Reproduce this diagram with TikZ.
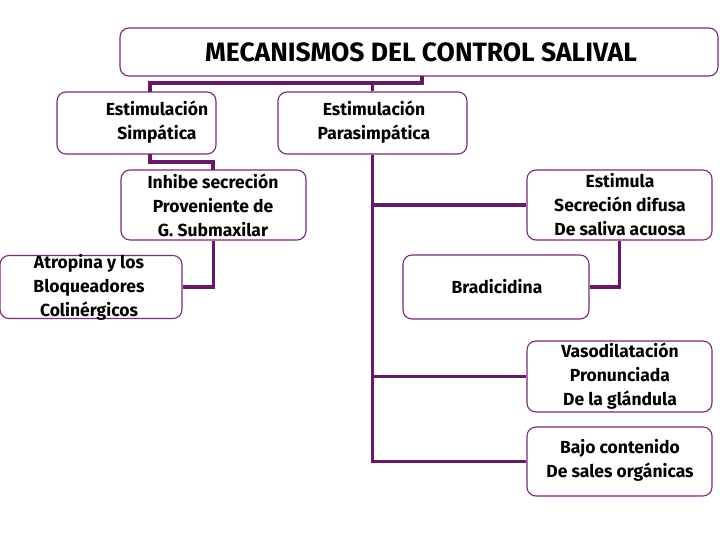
\documentclass[tikz,border=0pt]{standalone}
\usepackage{fontspec}
\setmainfont{Fira Sans}
\definecolor{conncol}{HTML}{661A66}
\definecolor{boxcol}{HTML}{7A2A7A}
\tikzset{
  box/.style={draw=boxcol, line width=1.1pt, rounded corners=9pt, fill=white, inner sep=0pt},
  txt/.style={align=center, font=\fontsize{17.5}{24}\selectfont\bfseries, text=black, inner sep=0pt},
  conn/.style={draw=conncol, line width=3.2pt}
}
\begin{document}
\begin{tikzpicture}[x=1pt,y=-1pt]
\useasboundingbox (0,0) rectangle (720,540);
\coordinate (tb) at (422,76);
\coordinate (j1) at (422,83);
\coordinate (simpTop) at (150,92);
\coordinate (simpBot) at (150,154);
\coordinate (inhTop) at (213,170);

\node[box, minimum width=598, minimum height=48] (title) at (419,52) {};
\node[box, minimum width=159, minimum height=62] (simp) at (136.5,123) {};
\node[box, minimum width=189, minimum height=62] (para) at (372.5,123) {};
\node[box, minimum width=185, minimum height=70] (inh) at (213.5,205) {};
\node[box, minimum width=182, minimum height=63] (atro) at (91,287) {};
\node[box, minimum width=185, minimum height=70] (estim) at (619.5,205) {};
\node[box, minimum width=186, minimum height=64] (brad) at (496,287) {};
\node[box, minimum width=185, minimum height=71] (vaso) at (619.5,376.5) {};
\node[box, minimum width=185, minimum height=69] (bajo) at (619.5,461.5) {};

\draw[conn] (tb) -- (j1) -| (simpTop);
\draw[conn] (j1) -| (para.north);
\draw[conn] (simpBot) |- (213,162) -- (inhTop);
\draw[conn] (inh.south) |- (atro.east);
\draw[conn] (para.south) |- (estim.west);
\draw[conn] (para.south) |- (vaso.west);
\draw[conn] (para.south) |- (bajo.west);
\draw[conn] (estim.south) |- (brad.east);

\node[txt, font=\fontsize{26.5}{28}\selectfont\bfseries] at (421,52) {MECANISMOS DEL CONTROL SALIVAL};
\node[txt] at (157,122) {Estimulación\\Simpática};
\node[txt] at (374,122) {Estimulación\\Parasimpática};
\node[txt] at (213,205) {Inhibe secreción\\Proveniente de\\G. Submaxilar};
\node[txt] at (89,287) {Atropina y los\\Bloqueadores\\Colinérgicos};
\node[txt] at (620,205) {Estimula\\Secreción difusa\\De saliva acuosa};
\node[txt] at (497,287) {Bradicidina};
\node[txt] at (620,376) {Vasodilatación\\Pronunciada\\De la glándula};
\node[txt] at (620,460) {Bajo contenido\\De sales orgánicas};
\end{tikzpicture}
\end{document}
